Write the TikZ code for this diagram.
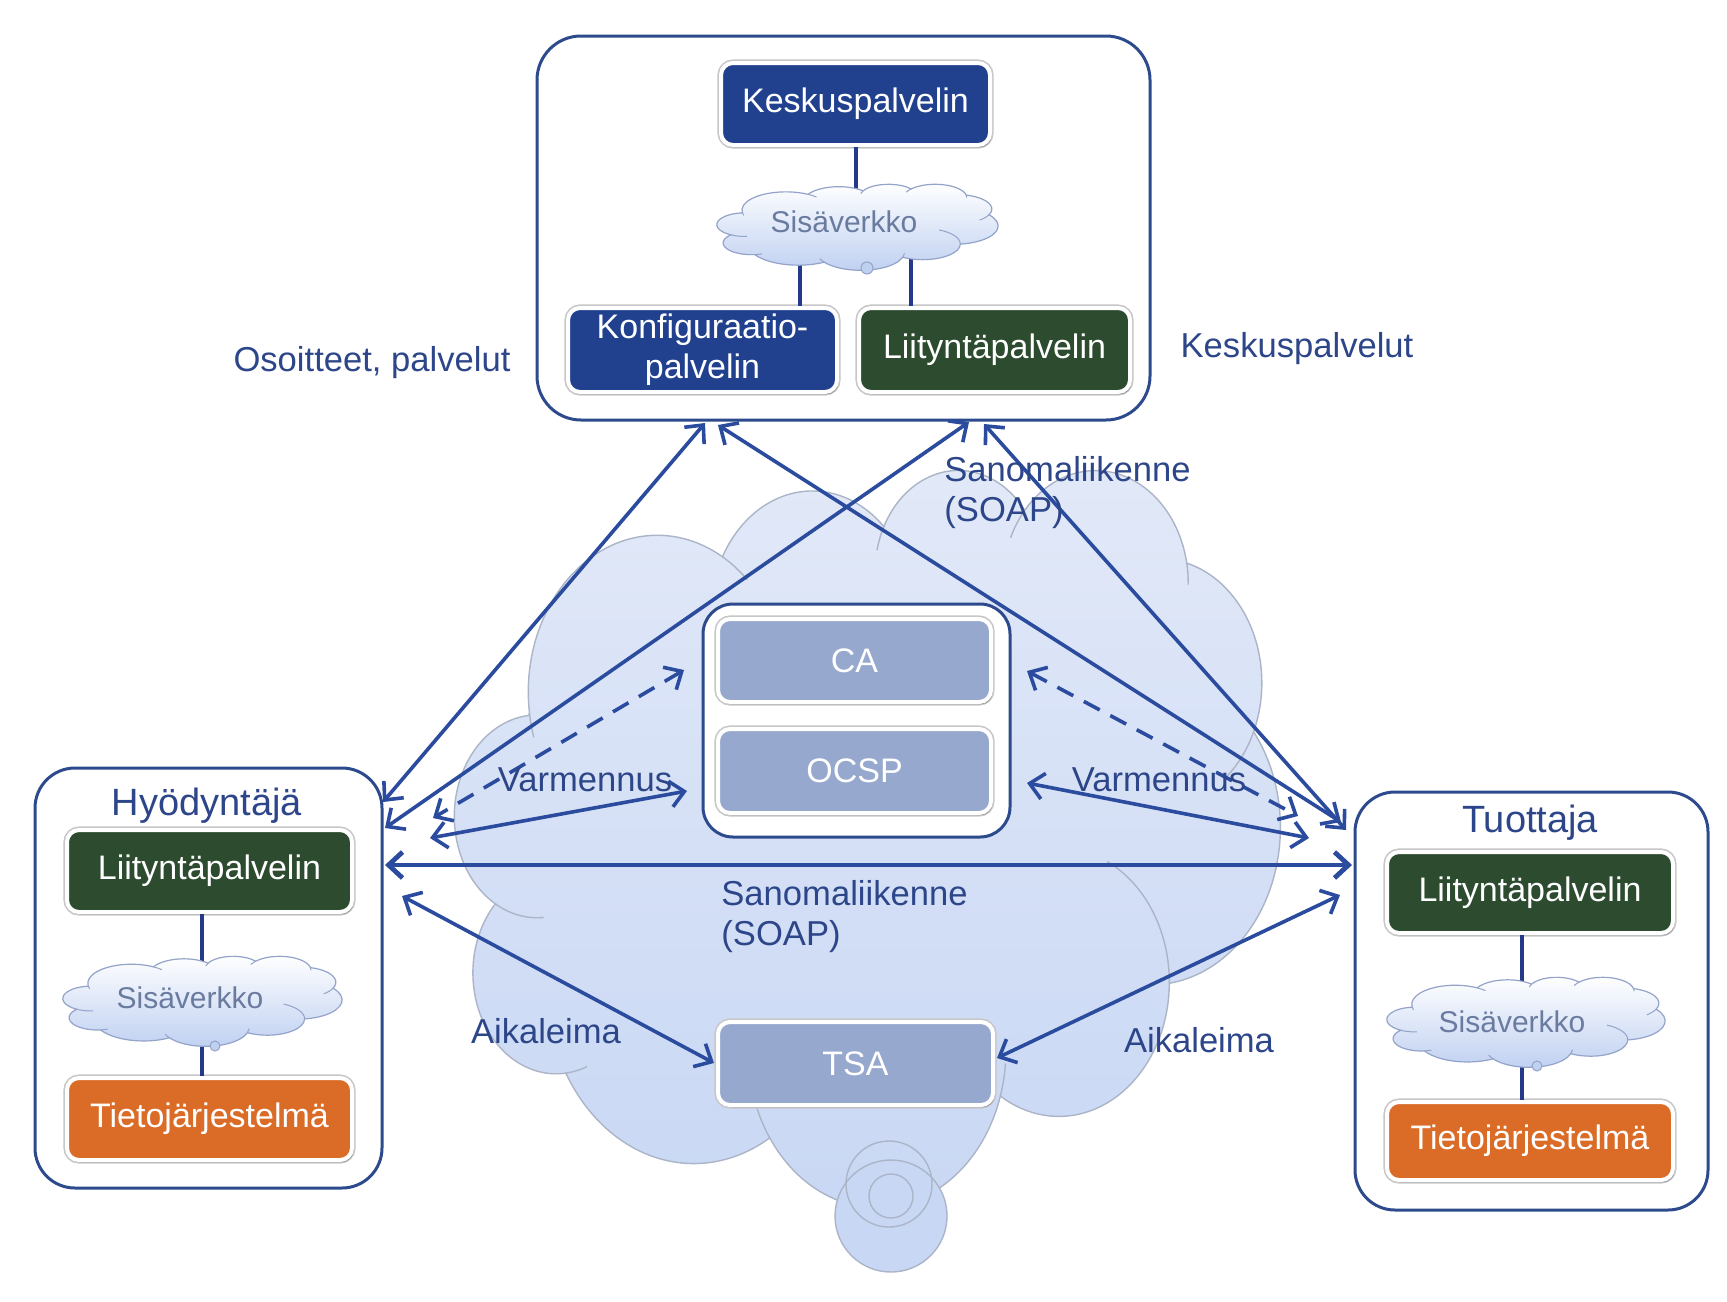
\documentclass[tikz,border=0pt]{standalone}
\usepackage{fontspec}
\setmainfont{Liberation Sans}
\usetikzlibrary{arrows.meta,shadows}
\definecolor{arrowblue}{HTML}{2A4B9E}
\definecolor{frameblue}{HTML}{2C4A8C}
\definecolor{srvblue}{HTML}{21418F}
\definecolor{srvgreen}{HTML}{2C4B2F}
\definecolor{srvorange}{HTML}{DA6C27}
\definecolor{srvgray}{HTML}{96A8CD}
\definecolor{labelblue}{HTML}{2D4689}
\definecolor{cloudline}{HTML}{ABB5C7}
\definecolor{cloudtop}{HTML}{E2E9F8}
\definecolor{cloudbot}{HTML}{C8D7F4}
\definecolor{smallline}{HTML}{93A3C9}
\definecolor{smallbot}{HTML}{BFD0F1}
\definecolor{netblue}{HTML}{6A7BA0}
\definecolor{linkblue}{HTML}{24398A}

\newcommand{\cloudshape}{(9.028,33.264)
 arc[start angle=-187.745, end angle=-59.63, x radius=15.632, y radius=21.273]
 arc[start angle=-152.02, end angle=-45.45, x radius=12.345, y radius=16.822]
 arc[start angle=-153.49, end angle=-37.35, x radius=10.104, y radius=13.762]
 arc[start angle=-139.72, end angle=-10.21, x radius=11.243, y radius=15.266]
 arc[start angle=-74.77, end angle=23.21, x radius=12.345, y radius=16.836]
 arc[start angle=-37.53, end angle=81.86, x radius=15.683, y radius=21.343]
 arc[start angle=0.46, end angle=121.98, x radius=13.391, y radius=18.211]
 arc[start angle=16.845, end angle=146.23, x radius=15.630, y radius=21.331]
 arc[start angle=58.98, end angle=150.20, x radius=17.870, y radius=24.405]
 arc[start angle=83.31, end angle=223.11, x radius=10.093, y radius=13.699]
 arc[start angle=120.36, end angle=264.11, x radius=10.058, y radius=13.762]
 -- cycle}

\newcommand{\cloudinner}{(10.755,60.983) arc[start angle=85.55, end angle=120.36, x radius=10.058, y radius=13.762]
 (16.004,81.220) arc[start angle=68.23, end angle=83.31, x radius=10.093, y radius=13.699]
 (38.149,90.892) arc[start angle=146.23, end angle=158.47, x radius=15.630, y radius=21.331]
 (66.719,80.796) arc[start angle=4.735, end angle=16.845, x radius=15.630, y radius=21.331]
 (79.062,53.400) arc[start angle=-64.01, end angle=0.46, x radius=13.391, y radius=18.211]
 (96.800,35.786) arc[start angle=23.21, end angle=49.66, x radius=12.345, y radius=16.836]
 (88.697,12.906) arc[start angle=-10.21, end angle=0.82, x radius=11.243, y radius=15.266]
 (67.338,9.473) arc[start angle=-156.29, end angle=-139.72, x radius=11.243, y radius=15.266]
 (51.151,11.163) arc[start angle=-167.72, end angle=-153.49, x radius=10.104, y radius=13.762]
 (32.419,12.043) arc[start angle=-59.63, end angle=-45.74, x radius=15.632, y radius=21.273]
 (9.553,36.549) arc[start angle=163.19, end angle=172.255, x radius=15.632, y radius=21.273]}

\begin{document}
\begin{tikzpicture}[x=0.5pt, y=-0.5pt,
  every node/.style={inner sep=0pt},
  srv/.style={rectangle, rounded corners=6pt, draw=white, line width=2pt, text=white,
    font=\fontsize{17}{20}\selectfont, align=center,
    preaction={draw=black!22, line width=3.6pt},
    drop shadow={shadow xshift=0.8pt, shadow yshift=-1.2pt, opacity=0.25, fill=black}},
  container/.style={rectangle, draw=frameblue, line width=1.5pt, fill=white},
  lbl/.style={text=labelblue, font=\fontsize{17.3}{20}\selectfont, align=left},
  ttl/.style={text=labelblue, font=\fontsize{19}{22}\selectfont},
  nettxt/.style={text=netblue, font=\fontsize{15}{18}\selectfont},
  linkline/.style={draw=linkblue, line width=2pt},
  smallcloud/.style={top color=white, bottom color=smallbot, draw=smallline, line width=0.6pt},
  arr/.style={draw=arrowblue, line width=1.8pt, >={Straight Barb[length=7pt,width=13pt]}, <->},
  darr/.style={arr, dash pattern=on 9pt off 6pt},
]
\useasboundingbox (0,0) rectangle (1727,1301);
\fill[white] (0,0) rectangle (1727,1301);

% big cloud
\begin{scope}[shift={(455,468)}, x=4.125pt, y=-3.685pt]
  \path[top color=cloudtop, bottom color=cloudbot, draw=cloudline, line width=0.7pt] \cloudshape;
  \draw[cloudline, line width=0.7pt] \cloudinner;
\end{scope}
\draw[cloudline, line width=0.7pt, fill=cloudbot] (891,1216) circle[radius=28pt];
\draw[cloudline, line width=0.7pt] (889,1184) circle[radius=21.5pt];
\draw[cloudline, line width=0.7pt] (891,1196) circle[radius=11pt];

% containers
\node[container, rounded corners=22pt, minimum width=306.5pt, minimum height=192pt] (topbox) at (843.5,228) {};
\node[container, rounded corners=20pt, minimum width=173.5pt, minimum height=210pt] (lbox) at (208.5,978) {};
\node[container, rounded corners=20pt, minimum width=176.5pt, minimum height=209pt] (rbox) at (1531.5,1001) {};

% top box content
\coordinate (n1a) at (856,226);
\coordinate (n1b) at (800,226);
\coordinate (n1c) at (911,226);
\node[srv, fill=srvblue, minimum width=134.5pt, minimum height=41pt] (kesk) at (855.5,104) {Keskuspalvelin};
\node[srv, fill=srvblue, minimum width=134.5pt, minimum height=42pt] (konf) at (702.5,350) {Konfiguraatio-\\palvelin};
\node[srv, fill=srvgreen, minimum width=135.5pt, minimum height=42pt] (tliit) at (994.5,350) {Liityntäpalvelin};
\draw[linkline] (kesk.south -| n1a) -- (n1a);
\draw[linkline] (n1b) -- (n1b |- konf.north);
\draw[linkline] (n1c) -- (n1c |- tliit.north);
\begin{scope}[shift={(717,184)}, x=1.405pt, y=-0.43pt]
  \path[smallcloud] \cloudshape;
  \draw[smallline, line width=0.5pt] \cloudinner;
\end{scope}
\draw[smallline, line width=0.5pt, fill=smallbot] (867,268) circle[radius=3pt];
\node[nettxt] (net1) at (844,222) {Sisäverkko};

% left box content
\coordinate (n2) at (202,1000);
\node[ttl] (hyo) at (207,806) {Hyödyntäjä};
\node[srv, fill=srvgreen, minimum width=142.5pt, minimum height=41pt] (lliit) at (209.5,871) {Liityntäpalvelin};
\node[srv, fill=srvorange, minimum width=142.5pt, minimum height=41pt] (ltieto) at (209.5,1119) {Tietojärjestelmä};
\draw[linkline] (n2 |- lliit.south) -- (n2 |- ltieto.north);
\begin{scope}[shift={(63,956)}, x=1.395pt, y=-0.45pt]
  \path[smallcloud] \cloudshape;
  \draw[smallline, line width=0.5pt] \cloudinner;
\end{scope}
\draw[smallline, line width=0.5pt, fill=smallbot] (215,1046) circle[radius=2.5pt];
\node[nettxt] (net2) at (190,998) {Sisäverkko};

% right box content
\coordinate (n3) at (1522,1022);
\node[ttl] (tuo) at (1530,823) {Tuottaja};
\node[srv, fill=srvgreen, minimum width=143pt, minimum height=40.5pt] (rliit) at (1530,892.5) {Liityntäpalvelin};
\node[srv, fill=srvorange, minimum width=143pt, minimum height=39pt] (rtieto) at (1530,1141) {Tietojärjestelmä};
\draw[linkline] (n3 |- rliit.south) -- (n3 |- rtieto.north);
\begin{scope}[shift={(1387,977)}, x=1.39pt, y=-0.45pt]
  \path[smallcloud] \cloudshape;
  \draw[smallline, line width=0.5pt] \cloudinner;
\end{scope}
\draw[smallline, line width=0.5pt, fill=smallbot] (1537,1066) circle[radius=2.5pt];
\node[nettxt] (net3) at (1512,1022) {Sisäverkko};

% central services
\node[container, rounded corners=15pt, minimum width=153.5pt, minimum height=116.5pt] (cabox) at (856.5,720.5) {};
\node[srv, fill=srvgray, minimum width=136.5pt, minimum height=41.5pt] (ca) at (854.5,660.5) {CA};
\node[srv, fill=srvgray, minimum width=136.5pt, minimum height=42pt] (ocsp) at (854.5,771) {OCSP};
\node[srv, fill=srvgray, minimum width=137.5pt, minimum height=41.5pt] (tsa) at (855.5,1063.5) {TSA};

% arrow end points
\coordinate (aT) at (705,423);  \coordinate (aL) at (383,802);
\coordinate (bT) at (718,425);  \coordinate (bR) at (1341,822);
\coordinate (cT) at (969,422);  \coordinate (cL) at (385,828);
\coordinate (dT) at (984,424);  \coordinate (dR) at (1346,830);
\coordinate (eC) at (684,670);  \coordinate (eL) at (433,818);
\coordinate (fC) at (687,791);  \coordinate (fL) at (430,838);
\coordinate (gC) at (1027,783); \coordinate (gR) at (1309,838);
\coordinate (hC) at (1027,671); \coordinate (hR) at (1298,816);
\coordinate (kL) at (385,865);  \coordinate (kR) at (1352,865);
\coordinate (jL) at (402,896);  \coordinate (jT) at (714,1063);
\coordinate (iT) at (997,1058); \coordinate (iR) at (1340,895);

\draw[arr] (aT) -- (aL);
\draw[arr] (bT) -- (bR);
\draw[arr] (cT) -- (cL);
\draw[arr] (dT) -- (dR);
\draw[darr] (eC) -- (eL);
\draw[arr] (fC) -- (fL);
\draw[arr] (gC) -- (gR);
\draw[darr] (hC) -- (hR);
\draw[arr, line width=2.4pt] (kL) -- (kR);
\draw[arr] (jL) -- (jT);
\draw[arr] (iT) -- (iR);

% labels
\node[lbl] (osoite) at (372,363) {Osoitteet, palvelut};
\node[lbl] (keskusp) at (1297,349) {Keskuspalvelut};
\node[lbl, anchor=west] (soap1) at (944,493) {Sanomaliikenne\\(SOAP)};
\node[lbl, anchor=west] (soap2) at (721,917) {Sanomaliikenne\\(SOAP)};
\node[lbl] (varm1) at (585,780) {Varmennus};
\node[lbl] (varm2) at (1159,780) {Varmennus};
\node[lbl] (aika1) at (546,1031) {Aikaleima};
\node[lbl] (aika2) at (1199,1040) {Aikaleima};
\end{tikzpicture}
\end{document}
